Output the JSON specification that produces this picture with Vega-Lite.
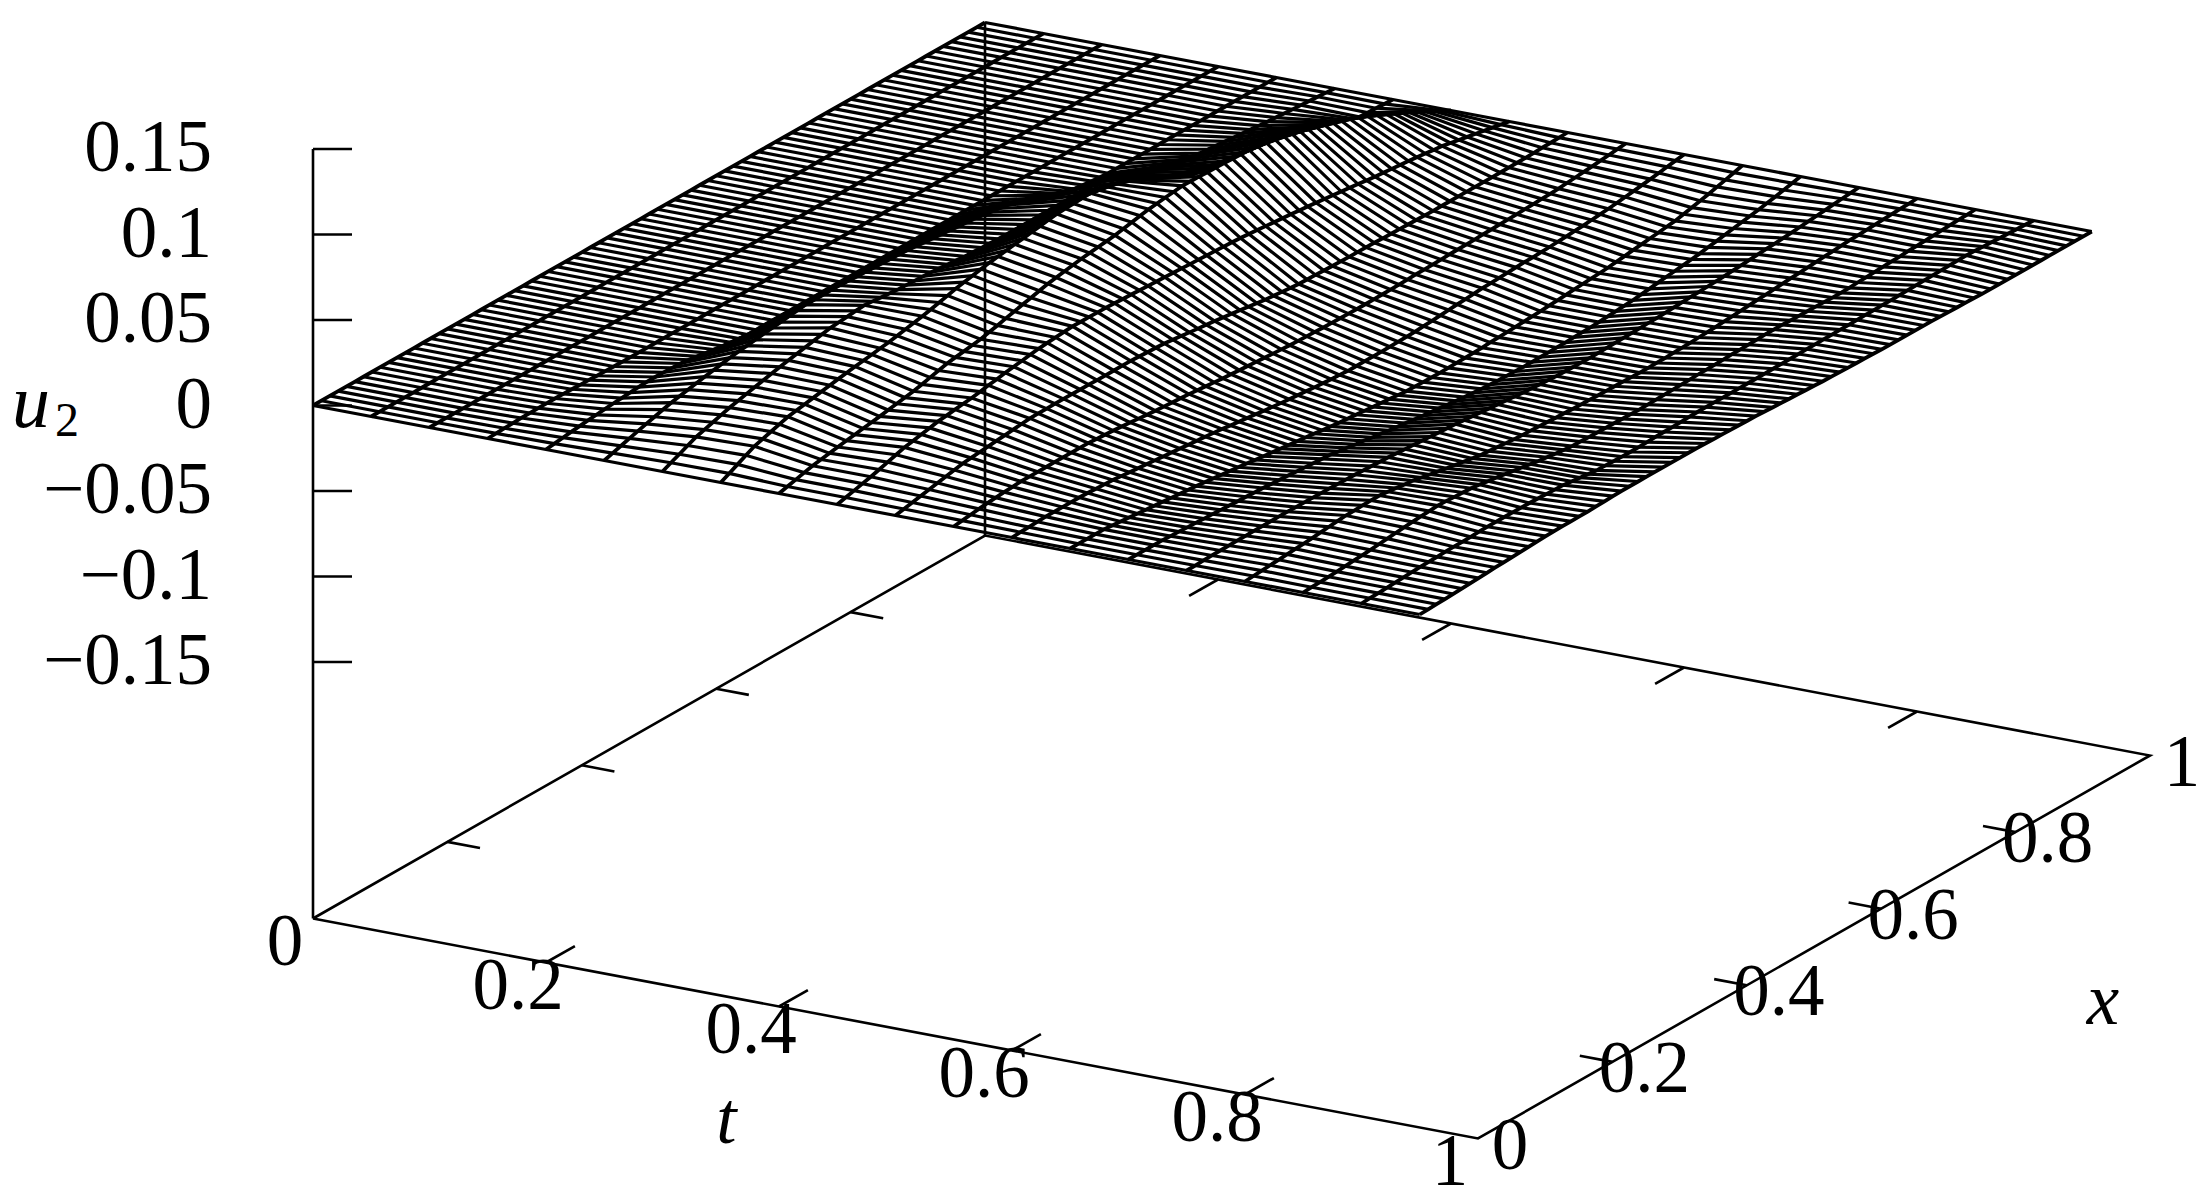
{"$schema":"https://vega.github.io/schema/vega-lite/v6.json","width":2208,"height":1202,"padding":0,"autosize":{"type":"fit","contains":"padding"},"background":"white","config":{"view":{"stroke":null}},
"datasets":{"surface":[
{"t":0,"xi":[0,1,2,3,4,5,6,7,8,9,10,11,12,13,14,15,16,17,18,19,20,21,22,23,24,25,26,27,28,29,30,31,32,33,34,35,36,37,38,39,40,41,42,43,44,45,46,47,48,49,50,51,52,53,54,55,56,57,58,59,60,61,62,63,64,65,66,67,68,69,70,71,72,73,74,75,76,77,78,79,80],"u":[0]},
{"t":0.05,"xi":[0,1,2,3,4,5,6,7,8,9,10,11,12,13,14,15,16,17,18,19,20,21,22,23,24,25,26,27,28,29,30,31,32,33,34,35,36,37,38,39,40,41,42,43,44,45,46,47,48,49,50,51,52,53,54,55,56,57,58,59,60,61,62,63,64,65,66,67,68,69,70,71,72,73,74,75,76,77,78,79,80],"u":[0]},
{"t":0.1,"xi":[0,1,2,3,4,5,6,7,8,9,10,11,12,13,14,15,16,17,18,19,20,21,22,23,24,25,26,27,28,29,30,31,32,33,34,35,36,37,38,39,40,41,42,43,44,45,46,47,48,49,50,51,52,53,54,55,56,57,58,59,60,61,62,63,64,65,66,67,68,69,70,71,72,73,74,75,76,77,78,79,80],"u":[0]},
{"t":0.15,"xi":[0,1,2,3,4,5,6,7,8,9,10,11,12,13,14,15,16,17,18,19,20,21,22,23,24,25,26,27,28,29,30,31,32,33,34,35,36,37,38,39,40,41,42,43,44,45,46,47,48,49,50,51,52,53,54,55,56,57,58,59,60,61,62,63,64,65,66,67,68,69,70,71,72,73,74,75,76,77,78,79,80],"u":[0,2,4,6,8,9,10,10,10,9,8,6,5,3,2,1]},
{"t":0.2,"xi":[0,1,2,3,4,5,6,7,8,9,10,11,12,13,14,15,16,17,18,19,20,21,22,23,24,25,26,27,28,29,30,31,32,33,34,35,36,37,38,39,40,41,42,43,44,45,46,47,48,49,50,51,52,53,54,55,56,57,58,59,60,61,62,63,64,65,66,67,68,69,70,71,72,73,74,75,76,77,78,79,80],"u":[0,6,13,19,25,30,35,40,45,49,53,57,60,60,59,57,55,49,41,33,25,18,11,5,0]},
{"t":0.25,"xi":[0,1,2,3,4,5,6,7,8,9,10,11,12,13,14,15,16,17,18,19,20,21,22,23,24,25,26,27,28,29,30,31,32,33,34,35,36,37,38,39,40,41,42,43,44,45,46,47,48,49,50,51,52,53,54,55,56,57,58,59,60,61,62,63,64,65,66,67,68,69,70,71,72,73,74,75,76,77,78,79,80],"u":[0,15,30,45,60,74,88,102,115,125,135,145,155,164,173,182,190,196,203,209,215,221,228,234,240,240,240,240,240,238,235,233,230,228,225,223,220,215,210,205,200,195,190,185,180,173,165,158,150,133,115,98,80,65,50,35,20,15,10,5,0]},
{"t":0.3,"xi":[0,1,2,3,4,5,6,7,8,9,10,11,12,13,14,15,16,17,18,19,20,21,22,23,24,25,26,27,28,29,30,31,32,33,34,35,36,37,38,39,40,41,42,43,44,45,46,47,48,49,50,51,52,53,54,55,56,57,58,59,60,61,62,63,64,65,66,67,68,69,70,71,72,73,74,75,76,77,78,79,80],"u":[0,23,45,68,90,105,120,135,150,162,174,186,197,209,220,230,240,250,260,270,280,285,290,295,300,295,290,285,280,278,275,273,270,265,260,255,250,248,245,243,240,240,240,240,240,240,240,240,240,240,240,240,240,225,210,190,170,155,140,125,110,100,90,80,70,65,60,55,50,45,40,35,30,26,22,18,15,11,8,4,0]},
{"t":0.35,"xi":[0,1,2,3,4,5,6,7,8,9,10,11,12,13,14,15,16,17,18,19,20,21,22,23,24,25,26,27,28,29,30,31,32,33,34,35,36,37,38,39,40,41,42,43,44,45,46,47,48,49,50,51,52,53,54,55,56,57,58,59,60,61,62,63,64,65,66,67,68,69,70,71,72,73,74,75,76,77,78,79,80],"u":[0,25,50,75,100,115,130,145,160,169,178,187,196,205,214,222,230,238,245,253,260,270,280,290,300,312,325,337,350,360,370,380,390,398,405,413,420,428,435,443,450,453,455,458,460,450,440,430,420,398,375,353,330,305,280,255,230,222,215,207,200,198,195,193,190,181,172,164,155,139,122,106,90,70,50,30,10,7,5,2,0]},
{"t":0.4,"xi":[0,1,2,3,4,5,6,7,8,9,10,11,12,13,14,15,16,17,18,19,20,21,22,23,24,25,26,27,28,29,30,31,32,33,34,35,36,37,38,39,40,41,42,43,44,45,46,47,48,49,50,51,52,53,54,55,56,57,58,59,60,61,62,63,64,65,66,67,68,69,70,71,72,73,74,75,76,77,78,79,80],"u":[0,13,25,38,50,59,68,76,85,92,100,107,115,124,133,141,150,162,175,187,200,208,215,223,230,243,255,268,280,293,305,318,330,339,348,356,365,371,378,384,390,400,410,420,430,436,443,449,455,454,453,451,450,448,445,443,440,434,428,421,415,399,383,366,350,334,318,301,285,266,248,229,210,183,157,130,103,77,52,26,0]},
{"t":0.45,"xi":[0,1,2,3,4,5,6,7,8,9,10,11,12,13,14,15,16,17,18,19,20,21,22,23,24,25,26,27,28,29,30,31,32,33,34,35,36,37,38,39,40,41,42,43,44,45,46,47,48,49,50,51,52,53,54,55,56,57,58,59,60,61,62,63,64,65,66,67,68,69,70,71,72,73,74,75,76,77,78,79,80],"u":[0,13,25,38,50,65,80,95,110,120,130,140,150,156,163,169,175,184,193,201,210,218,225,233,240,245,249,254,258,257,257,256,255,253,250,248,245,243,240,238,235,233,230,228,225,223,220,218,215,210,205,200,195,190,185,180,175,169,163,156,150,144,138,131,125,120,115,110,105,99,93,86,80,70,60,50,40,30,20,10,0]},
{"t":0.5,"xi":[0,1,2,3,4,5,6,7,8,9,10,11,12,13,14,15,16,17,18,19,20,21,22,23,24,25,26,27,28,29,30,31,32,33,34,35,36,37,38,39,40,41,42,43,44,45,46,47,48,49,50,51,52,53,54,55,56,57,58,59,60,61,62,63,64,65,66,67,68,69,70,71,72,73,74,75,76,77,78,79,80],"u":[0,10,20,30,40,50,60,70,80,85,90,95,100,105,110,115,120,121,121,122,122,122,121,121,120,120,120,120,120,118,115,113,110,104,98,91,85,79,73,66,60,53,45,38,30,25,20,15,10,8,7,5,3,2,1,0,0,-1,-3,-4,-5,-6,-8,-9,-10,-10,-10,-10,-10,-10,-10,-10,-10,-9,-9,-8,-7,-5,-4,-2,0]},
{"t":0.55,"xi":[0,1,2,3,4,5,6,7,8,9,10,11,12,13,14,15,16,17,18,19,20,21,22,23,24,25,26,27,28,29,30,31,32,33,34,35,36,37,38,39,40,41,42,43,44,45,46,47,48,49,50,51,52,53,54,55,56,57,58,59,60,61,62,63,64,65,66,67,68,69,70,71,72,73,74,75,76,77,78,79,80],"u":[0,6,13,19,25,29,33,36,40,40,40,40,40,40,40,40,40,36,33,29,25,20,15,10,5,1,-3,-6,-10,-15,-20,-25,-30,-34,-38,-41,-45,-49,-53,-56,-60,-62,-64,-66,-68,-69,-70,-71,-72,-72,-71,-71,-70,-69,-68,-66,-65,-64,-63,-61,-60,-59,-58,-56,-55,-53,-52,-50,-48,-46,-44,-42,-40,-35,-31,-26,-22,-16,-11,-5,0]},
{"t":0.6,"xi":[0,1,2,3,4,5,6,7,8,9,10,11,12,13,14,15,16,17,18,19,20,21,22,23,24,25,26,27,28,29,30,31,32,33,34,35,36,37,38,39,40,41,42,43,44,45,46,47,48,49,50,51,52,53,54,55,56,57,58,59,60,61,62,63,64,65,66,67,68,69,70,71,72,73,74,75,76,77,78,79,80],"u":[0,3,5,8,10,10,10,10,10,8,5,3,0,-5,-10,-15,-20,-25,-30,-35,-40,-45,-50,-55,-60,-66,-73,-79,-85,-91,-98,-104,-110,-115,-120,-125,-130,-134,-138,-141,-145,-145,-145,-145,-145,-144,-143,-141,-140,-136,-133,-129,-125,-121,-118,-114,-110,-108,-105,-103,-100,-98,-97,-95,-93,-90,-87,-83,-80,-75,-70,-65,-60,-53,-46,-39,-32,-24,-16,-8,0]},
{"t":0.65,"xi":[0,1,2,3,4,5,6,7,8,9,10,11,12,13,14,15,16,17,18,19,20,21,22,23,24,25,26,27,28,29,30,31,32,33,34,35,36,37,38,39,40,41,42,43,44,45,46,47,48,49,50,51,52,53,54,55,56,57,58,59,60,61,62,63,64,65,66,67,68,69,70,71,72,73,74,75,76,77,78,79,80],"u":[0,0,0,0,0,-5,-10,-15,-20,-25,-30,-35,-40,-45,-50,-55,-60,-66,-73,-79,-85,-91,-98,-104,-110,-116,-123,-129,-135,-141,-148,-154,-160,-165,-170,-175,-180,-185,-190,-195,-200,-201,-203,-204,-205,-204,-203,-201,-200,-198,-195,-193,-190,-188,-185,-183,-180,-176,-173,-169,-165,-161,-158,-154,-150,-144,-138,-131,-125,-119,-113,-106,-100,-89,-78,-66,-55,-41,-28,-14,0]},
{"t":0.7,"xi":[0,1,2,3,4,5,6,7,8,9,10,11,12,13,14,15,16,17,18,19,20,21,22,23,24,25,26,27,28,29,30,31,32,33,34,35,36,37,38,39,40,41,42,43,44,45,46,47,48,49,50,51,52,53,54,55,56,57,58,59,60,61,62,63,64,65,66,67,68,69,70,71,72,73,74,75,76,77,78,79,80],"u":[0,0,0,0,0,-3,-5,-8,-10,-13,-15,-18,-20,-23,-25,-28,-30,-34,-38,-41,-45,-49,-53,-56,-60,-68,-75,-83,-90,-98,-105,-113,-120,-126,-133,-139,-145,-151,-158,-164,-170,-174,-178,-181,-185,-186,-188,-189,-190,-189,-189,-188,-187,-185,-184,-182,-180,-176,-173,-169,-165,-159,-153,-146,-140,-134,-128,-121,-115,-106,-98,-89,-80,-71,-63,-54,-45,-34,-23,-11,0]},
{"t":0.75,"xi":[0,1,2,3,4,5,6,7,8,9,10,11,12,13,14,15,16,17,18,19,20,21,22,23,24,25,26,27,28,29,30,31,32,33,34,35,36,37,38,39,40,41,42,43,44,45,46,47,48,49,50,51,52,53,54,55,56,57,58,59,60,61,62,63,64,65,66,67,68,69,70,71,72,73,74,75,76,77,78,79,80],"u":[0,1,3,4,5,6,7,7,8,8,8,8,8,7,7,6,5,4,3,1,0,-3,-5,-8,-10,-14,-18,-21,-25,-29,-33,-36,-40,-45,-50,-55,-60,-65,-70,-75,-80,-84,-88,-91,-95,-96,-98,-99,-100,-99,-98,-96,-95,-94,-93,-91,-90,-88,-85,-83,-80,-78,-75,-73,-70,-66,-63,-59,-55,-51,-48,-44,-40,-35,-30,-25,-20,-15,-10,-5,0]},
{"t":0.8,"xi":[0,1,2,3,4,5,6,7,8,9,10,11,12,13,14,15,16,17,18,19,20,21,22,23,24,25,26,27,28,29,30,31,32,33,34,35,36,37,38,39,40,41,42,43,44,45,46,47,48,49,50,51,52,53,54,55,56,57,58,59,60,61,62,63,64,65,66,67,68,69,70,71,72,73,74,75,76,77,78,79,80],"u":[0,4,8,11,15,19,23,26,30,35,40,45,50,51,53,54,55,49,43,36,30,20,10,0,-10,-19,-28,-36,-45,-50,-55,-60,-65,-68,-70,-73,-75,-78,-80,-83,-85,-86,-88,-89,-90,-91,-93,-94,-95,-94,-93,-91,-90,-88,-85,-83,-80,-76,-73,-69,-65,-61,-58,-54,-50,-46,-43,-39,-35,-31,-28,-24,-20,-18,-15,-13,-10,-8,-5,-3,0]},
{"t":0.85,"xi":[0,1,2,3,4,5,6,7,8,9,10,11,12,13,14,15,16,17,18,19,20,21,22,23,24,25,26,27,28,29,30,31,32,33,34,35,36,37,38,39,40,41,42,43,44,45,46,47,48,49,50,51,52,53,54,55,56,57,58,59,60,61,62,63,64,65,66,67,68,69,70,71,72,73,74,75,76,77,78,79,80],"u":[0,3,5,8,10,14,18,21,25,30,35,40,45,49,53,56,60,58,55,53,50,43,35,28,20,11,3,-6,-15,-21,-28,-34,-40,-41,-43,-44,-45,-46,-48,-49,-50,-49,-48,-46,-45,-44,-43,-41,-40,-39,-38,-36,-35,-34,-33,-31,-30,-31,-33,-34,-35,-36,-38,-39,-40,-38,-35,-33,-30,-28,-25,-23,-20,-18,-15,-13,-10,-8,-5,-3,0]},
{"t":0.9,"xi":[0,1,2,3,4,5,6,7,8,9,10,11,12,13,14,15,16,17,18,19,20,21,22,23,24,25,26,27,28,29,30,31,32,33,34,35,36,37,38,39,40,41,42,43,44,45,46,47,48,49,50,51,52,53,54,55,56,57,58,59,60,61,62,63,64,65,66,67,68,69,70,71,72,73,74,75,76,77,78,79,80],"u":[0,3,5,8,10,13,15,18,20,21,23,24,25,26,28,29,30,30,29,29,28,26,24,22,20,14,8,1,-5,-6,-8,-9,-10,-9,-8,-6,-5,-4,-3,-1,0,0,0,0,0,0,0,0,0,1,2,2,3,4,4,5,5,6,6,7,8,8,9,9,10,11,13,14,15,16,18,19,20,18,15,13,10,8,5,3,0]},
{"t":0.95,"xi":[0,1,2,3,4,5,6,7,8,9,10,11,12,13,14,15,16,17,18,19,20,21,22,23,24,25,26,27,28,29,30,31,32,33,34,35,36,37,38,39,40,41,42,43,44,45,46,47,48,49,50,51,52,53,54,55,56,57,58,59,60,61,62,63,64,65,66,67,68,69,70,71,72,73,74,75,76,77,78,79,80],"u":[0,2,4,6,8,11,14,17,20,23,25,28,30,33,35,38,40,41,41,42,42,44,46,48,50,50,50,50,50,50,50,50,50,49,48,46,45,44,43,41,40,38,35,33,30,28,25,23,20,19,18,16,15,14,13,11,10,10,10,10,10,9,8,6,5,4,3,1,0]}
],
"guides":[
{"id":"floor","p":0,"t":0,"x":0,"z":-0.3},{"id":"floor","p":1,"t":1,"x":0,"z":-0.3},{"id":"floor","p":2,"t":1,"x":1,"z":-0.3},{"id":"floor","p":3,"t":0,"x":1,"z":-0.3},{"id":"floor","p":4,"t":0,"x":0,"z":-0.3},
{"id":"zaxis","p":0,"t":0,"x":0,"z":-0.3},{"id":"zaxis","p":1,"t":0,"x":0,"z":0.15},
{"id":"back","p":0,"t":0,"x":1,"z":-0.3},{"id":"back","p":1,"t":0,"x":1,"z":0},
{"id":"z1","p":0,"t":0,"x":0,"z":0.15},{"id":"z1","p":1,"t":0.0252,"x":0.0144,"z":0.15},
{"id":"z2","p":0,"t":0,"x":0,"z":0.1},{"id":"z2","p":1,"t":0.0252,"x":0.0144,"z":0.1},
{"id":"z3","p":0,"t":0,"x":0,"z":0.05},{"id":"z3","p":1,"t":0.0252,"x":0.0144,"z":0.05},
{"id":"z4","p":0,"t":0,"x":0,"z":0},{"id":"z4","p":1,"t":0.0252,"x":0.0144,"z":0},
{"id":"z5","p":0,"t":0,"x":0,"z":-0.05},{"id":"z5","p":1,"t":0.0252,"x":0.0144,"z":-0.05},
{"id":"z6","p":0,"t":0,"x":0,"z":-0.1},{"id":"z6","p":1,"t":0.0252,"x":0.0144,"z":-0.1},
{"id":"z7","p":0,"t":0,"x":0,"z":-0.15},{"id":"z7","p":1,"t":0.0252,"x":0.0144,"z":-0.15},
{"id":"tf2","p":0,"t":0.2,"x":0,"z":-0.3},{"id":"tf2","p":1,"t":0.2,"x":0.043,"z":-0.3},
{"id":"tf4","p":0,"t":0.4,"x":0,"z":-0.3},{"id":"tf4","p":1,"t":0.4,"x":0.043,"z":-0.3},
{"id":"tf6","p":0,"t":0.6,"x":0,"z":-0.3},{"id":"tf6","p":1,"t":0.6,"x":0.043,"z":-0.3},
{"id":"tf8","p":0,"t":0.8,"x":0,"z":-0.3},{"id":"tf8","p":1,"t":0.8,"x":0.043,"z":-0.3},
{"id":"tb2","p":0,"t":0.2,"x":1,"z":-0.3},{"id":"tb2","p":1,"t":0.2,"x":0.957,"z":-0.3},
{"id":"tb4","p":0,"t":0.4,"x":1,"z":-0.3},{"id":"tb4","p":1,"t":0.4,"x":0.957,"z":-0.3},
{"id":"tb6","p":0,"t":0.6,"x":1,"z":-0.3},{"id":"tb6","p":1,"t":0.6,"x":0.957,"z":-0.3},
{"id":"tb8","p":0,"t":0.8,"x":1,"z":-0.3},{"id":"tb8","p":1,"t":0.8,"x":0.957,"z":-0.3},
{"id":"xl2","p":0,"t":0,"x":0.2,"z":-0.3},{"id":"xl2","p":1,"t":0.028,"x":0.2,"z":-0.3},
{"id":"xl4","p":0,"t":0,"x":0.4,"z":-0.3},{"id":"xl4","p":1,"t":0.028,"x":0.4,"z":-0.3},
{"id":"xl6","p":0,"t":0,"x":0.6,"z":-0.3},{"id":"xl6","p":1,"t":0.028,"x":0.6,"z":-0.3},
{"id":"xl8","p":0,"t":0,"x":0.8,"z":-0.3},{"id":"xl8","p":1,"t":0.028,"x":0.8,"z":-0.3},
{"id":"xr2","p":0,"t":1,"x":0.2,"z":-0.3},{"id":"xr2","p":1,"t":0.972,"x":0.2,"z":-0.3},
{"id":"xr4","p":0,"t":1,"x":0.4,"z":-0.3},{"id":"xr4","p":1,"t":0.972,"x":0.4,"z":-0.3},
{"id":"xr6","p":0,"t":1,"x":0.6,"z":-0.3},{"id":"xr6","p":1,"t":0.972,"x":0.6,"z":-0.3},
{"id":"xr8","p":0,"t":1,"x":0.8,"z":-0.3},{"id":"xr8","p":1,"t":0.972,"x":0.8,"z":-0.3}
],
"labels":[
{"g":"z","label":"0.15","t":0,"x":0,"z":0.15},{"g":"z","label":"0.1","t":0,"x":0,"z":0.1},{"g":"z","label":"0.05","t":0,"x":0,"z":0.05},{"g":"z","label":"0","t":0,"x":0,"z":0},{"g":"z","label":"−0.05","t":0,"x":0,"z":-0.05},{"g":"z","label":"−0.1","t":0,"x":0,"z":-0.1},{"g":"z","label":"−0.15","t":0,"x":0,"z":-0.15},
{"g":"t","label":"0","t":0,"x":0,"z":-0.3},{"g":"t","label":"0.2","t":0.2,"x":0,"z":-0.3},{"g":"t","label":"0.4","t":0.4,"x":0,"z":-0.3},{"g":"t","label":"0.6","t":0.6,"x":0,"z":-0.3},{"g":"t","label":"0.8","t":0.8,"x":0,"z":-0.3},{"g":"t","label":"1","t":1,"x":0,"z":-0.3},
{"g":"x","label":"0","t":1,"x":0,"z":-0.3},{"g":"x","label":"0.2","t":1,"x":0.2,"z":-0.3},{"g":"x","label":"0.4","t":1,"x":0.4,"z":-0.3},{"g":"x","label":"0.6","t":1,"x":0.6,"z":-0.3},{"g":"x","label":"0.8","t":1,"x":0.8,"z":-0.3},{"g":"x","label":"1","t":1,"x":1,"z":-0.3},
{"g":"tt","label":"t","t":0.5,"x":0,"z":-0.3},{"g":"xt","label":"x","t":1,"x":0.5,"z":-0.3},{"g":"u","label":"u","t":0,"x":0,"z":0},{"g":"s","label":"2","t":0,"x":0,"z":0}
]},
"encoding":{"x":{"field":"sx","type":"quantitative","scale":{"domain":[0,2208],"range":[0,2208]},"axis":null},"y":{"field":"sy","type":"quantitative","scale":{"domain":[0,1202],"range":[0,1202]},"axis":null}},
"layer":[
{"data":{"name":"guides"},"transform":[{"calculate":"313+1165*datum.t+672*datum.x","as":"sx"},{"calculate":"405.5+220*datum.t-383*datum.x-1710*datum.z","as":"sy"}],"mark":{"type":"line","stroke":"black","strokeWidth":2.6},"encoding":{"detail":{"field":"id"},"order":{"field":"p"}}},
{"data":{"name":"surface"},"transform":[{"flatten":["xi","u"]},{"calculate":"datum.xi/80","as":"x"},{"calculate":"datum.u/10000","as":"z"},{"calculate":"313+1165*datum.t+672*datum.x","as":"sx"},{"calculate":"405.5+220*datum.t-383*datum.x-1710*datum.z","as":"sy"}],"layer":[
{"mark":{"type":"line","stroke":"black","strokeWidth":3.2},"encoding":{"detail":{"field":"xi"},"order":{"field":"t"}}},
{"mark":{"type":"line","stroke":"black","strokeWidth":3.8},"encoding":{"detail":{"field":"t"},"order":{"field":"xi"}}}
]},
{"data":{"name":"labels"},"transform":[{"calculate":"313+1165*datum.t+672*datum.x","as":"sx"},{"calculate":"405.5+220*datum.t-383*datum.x-1710*datum.z","as":"sy"}],"layer":[
{"transform":[{"filter":"datum.g==='z'"}],"mark":{"type":"text","font":"Liberation Serif","fontSize":73,"align":"right","baseline":"middle","dx":-101,"dy":0},"encoding":{"text":{"field":"label"}}},
{"transform":[{"filter":"datum.g==='t'"}],"mark":{"type":"text","font":"Liberation Serif","fontSize":73,"align":"center","baseline":"middle","dx":-28,"dy":24},"encoding":{"text":{"field":"label"}}},
{"transform":[{"filter":"datum.g==='x'"}],"mark":{"type":"text","font":"Liberation Serif","fontSize":73,"align":"center","baseline":"middle","dx":32,"dy":8},"encoding":{"text":{"field":"label"}}},
{"transform":[{"filter":"datum.g==='tt'"}],"mark":{"type":"text","font":"Liberation Serif","fontStyle":"italic","fontSize":73,"align":"center","baseline":"middle","dx":-169,"dy":92},"encoding":{"text":{"field":"label"}}},
{"transform":[{"filter":"datum.g==='xt'"}],"mark":{"type":"text","font":"Liberation Serif","fontStyle":"italic","fontSize":73,"align":"center","baseline":"middle","dx":289,"dy":55},"encoding":{"text":{"field":"label"}}},
{"transform":[{"filter":"datum.g==='u'"}],"mark":{"type":"text","font":"Liberation Serif","fontStyle":"italic","fontSize":76,"align":"center","baseline":"middle","dx":-282,"dy":-2},"encoding":{"text":{"field":"label"}}},
{"transform":[{"filter":"datum.g==='s'"}],"mark":{"type":"text","font":"Liberation Serif","fontSize":48,"align":"center","baseline":"middle","dx":-246,"dy":16},"encoding":{"text":{"field":"label"}}}
]}
]}
